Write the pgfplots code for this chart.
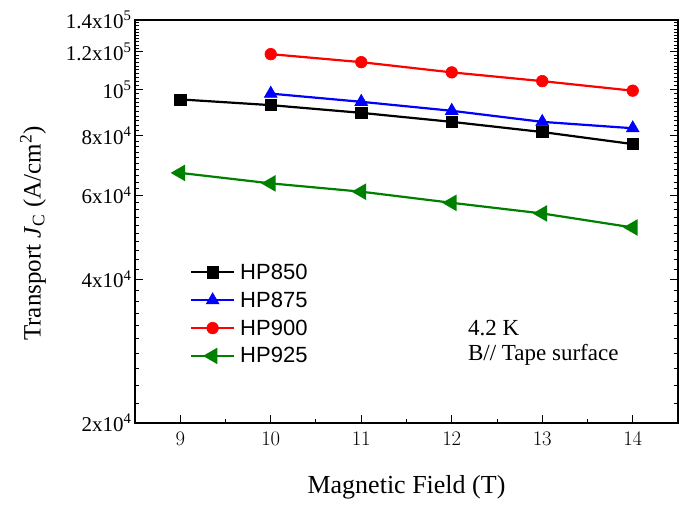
\documentclass[border=0pt]{standalone}
\usepackage{fontspec}
\setmainfont{Liberation Serif}
\newfontfamily\arial{Liberation Sans}
\usepackage{pgfplots}
\pgfplotsset{compat=1.18}

\definecolor{hpgreen}{RGB}{0,128,0}

\begin{document}
\begin{tikzpicture}
\useasboundingbox (-135bp,-83bp) rectangle (550bp,423bp);
\begin{axis}[
    at={(0,0)}, anchor=south west,
    scale only axis,
    width=543bp, height=403bp,
    ymode=log,
    xmin=8.5, xmax=14.5,
    ymin=20000, ymax=140000,
    xtick={9,10,11,12,13,14},
    minor xtick={8.5,9.5,10.5,11.5,12.5,13.5,14.5},
    ytick={20000,40000,60000,80000,100000,120000,140000},
    yticklabels={2x10\textsuperscript{4},4x10\textsuperscript{4},6x10\textsuperscript{4},8x10\textsuperscript{4},10\textsuperscript{5},1.2x10\textsuperscript{5},1.4x10\textsuperscript{5}},
    minor ytick={22000,24000,26000,28000,30000,32000,34000,36000,38000,
                 42000,44000,46000,48000,50000,52000,54000,56000,58000,
                 62000,64000,66000,68000,70000,72000,74000,76000,78000,
                 82000,84000,86000,88000,90000,92000,94000,96000,98000,
                 102000,104000,106000,108000,110000,112000,114000,116000,118000,
                 122000,124000,126000,128000,130000,132000,134000,136000,138000},
    xtick pos=bottom,
    ytick pos=both,
    tick align=inside,
    major tick length=8bp,
    minor tick length=4bp,
    axis line style={line width=1.2bp},
    every tick/.style={line width=1bp, black},
    ticklabel style={font=\fontsize{21bp}{24bp}\selectfont},
    xticklabel style={yshift=-6bp},
    xlabel={Magnetic Field (T)},
    ylabel={Transport \textit{J}\textsubscript{C} (A/cm\textsuperscript{2})},
    xlabel style={font=\fontsize{26bp}{30bp}\selectfont,
        at={(axis description cs:0.5,0)}, yshift=-64bp, anchor=center},
    ylabel style={font=\fontsize{25bp}{29bp}\selectfont,
        at={(axis description cs:-0.188,0.47)}, anchor=center},
    legend style={at={(axis description cs:0.101,0.40)}, anchor=north west,
        draw=none, fill=none, font=\arial\fontsize{22bp}{25bp}\selectfont,
        row sep=7bp, column sep=3bp, inner sep=0pt},
    legend cell align=left,
    legend image code/.code={
        \draw[mark repeat=2, mark phase=2, #1] plot coordinates {(0bp,0bp)(21.5bp,0bp)(43bp,0bp)};
    },
    every axis plot/.append style={line width=2.2bp, mark options={line width=0.6bp}},
]
\addplot[black, mark=square*, mark size=5.6bp] coordinates {
    (9,95400) (10,92800) (11,89400) (12,85600) (13,81500) (14,76900)
};
\addlegendentry{HP850}
\addplot[blue, mark=triangle*, mark size=7.4bp] coordinates {
    (10,98100) (11,94300) (12,90300) (13,85600) (14,83000)
};
\addlegendentry{HP875}
\addplot[red, mark=*, mark size=5.8bp] coordinates {
    (10,118700) (11,114200) (12,108700) (13,104200) (14,99500)
};
\addlegendentry{HP900}
\addplot[hpgreen, mark=triangle*, mark size=7.4bp, mark options={rotate=90}] coordinates {
    (9,66900) (10,63600) (11,61100) (12,57900) (13,55000) (14,51400)
};
\addlegendentry{HP925}
\node[anchor=west, font=\fontsize{23bp}{26bp}\selectfont] at (axis description cs:0.607,0.2365) {4.2 K};
\node[anchor=west, font=\fontsize{23bp}{26bp}\selectfont] at (axis description cs:0.607,0.169) {B// Tape surface};
\end{axis}
\end{tikzpicture}
\end{document}
